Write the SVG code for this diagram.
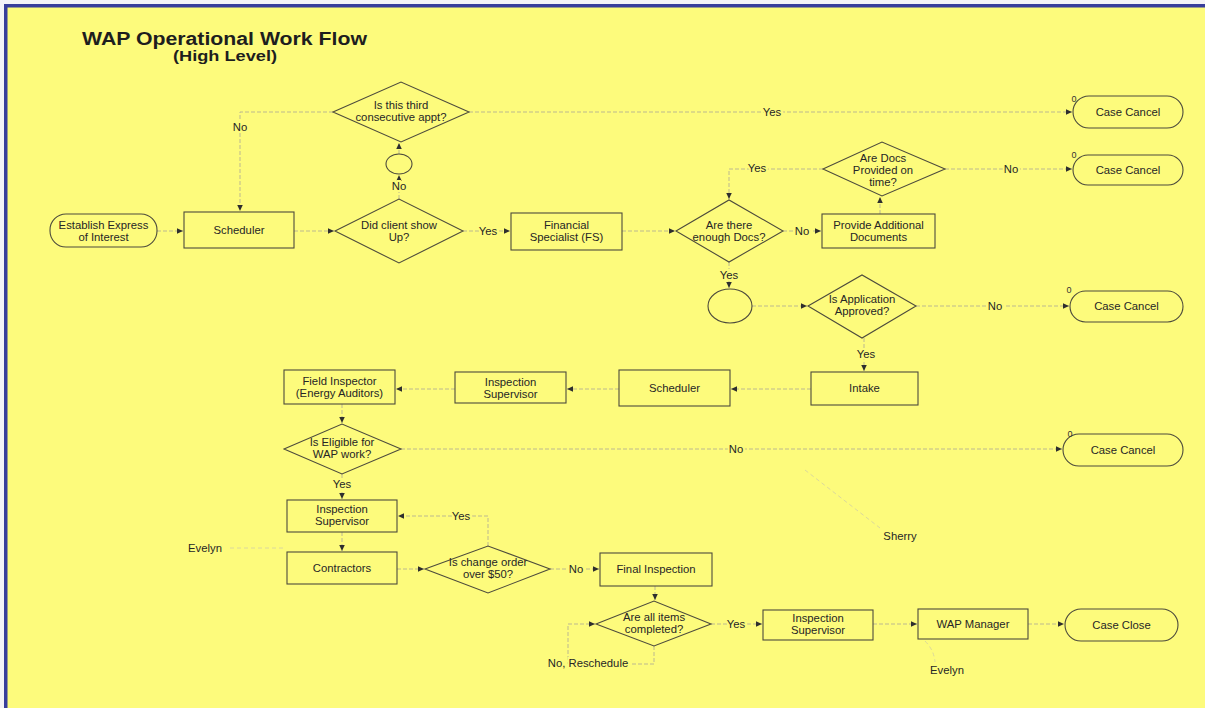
<svg xmlns="http://www.w3.org/2000/svg" width="1205" height="708" viewBox="0 0 1205 708">
<style>
.bg{fill:#fdfb7c}
.box{fill:none;stroke:#4d4b3c;stroke-width:1.1}
.t{font-family:"Liberation Sans",Arial,sans-serif;font-size:11.3px;fill:#262626;text-anchor:middle}
.lbl{font-family:"Liberation Sans",Arial,sans-serif;font-size:11.3px;fill:#262626;text-anchor:middle;stroke:#fdfb7c;stroke-width:4;paint-order:stroke}
.z{font-family:"Liberation Sans",Arial,sans-serif;font-size:9px;fill:#333;text-anchor:middle}
.conn{fill:none;stroke:#bcb98f;stroke-width:1;stroke-dasharray:4 2}
.faint{fill:none;stroke:#dbd89c;stroke-width:1;stroke-dasharray:4 3}
.title{font-family:"Liberation Sans",Arial,sans-serif;font-weight:bold;fill:#1e1e1e}
</style>
<defs>
<marker id="ah" markerUnits="userSpaceOnUse" markerWidth="6" markerHeight="6" refX="6" refY="2.75" orient="auto">
<path d="M0,0 L6,2.75 L0,5.5 z" fill="#2e2e2e"/>
</marker>
</defs>
<rect x="0" y="0" width="1205" height="708" fill="#f4f2f8"/>
<rect class="bg" x="4" y="4" width="1201" height="704"/>
<rect x="4" y="4" width="1201" height="3.5" fill="#383d9c"/>
<rect x="4" y="4" width="3.5" height="704" fill="#383d9c"/>

<text class="title" x="82" y="45" font-size="17.5" textLength="285" lengthAdjust="spacingAndGlyphs">WAP Operational Work Flow</text>
<text class="title" x="173" y="61" font-size="14" textLength="104" lengthAdjust="spacingAndGlyphs">(High Level)</text>

<g id="connectors">
<path class="conn" d="M157,231 H183" marker-end="url(#ah)"/>
<path class="conn" d="M294,231 H334" marker-end="url(#ah)"/>
<path class="conn" d="M399,199 V175" marker-end="url(#ah)"/>
<path class="conn" d="M399,154 V143" marker-end="url(#ah)"/>
<path class="conn" d="M333,112 H240 V211" marker-end="url(#ah)"/>
<path class="conn" d="M469,112 H1072" marker-end="url(#ah)"/>
<path class="conn" d="M463,231 H510" marker-end="url(#ah)"/>
<path class="conn" d="M622,231 H675" marker-end="url(#ah)"/>
<path class="conn" d="M783,231 H821" marker-end="url(#ah)"/>
<path class="conn" d="M880,214 V197" marker-end="url(#ah)"/>
<path class="conn" d="M823,169 H729 V199" marker-end="url(#ah)"/>
<path class="conn" d="M945,169 H1072" marker-end="url(#ah)"/>
<path class="conn" d="M729,262 V288" marker-end="url(#ah)"/>
<path class="conn" d="M752,306 H807" marker-end="url(#ah)"/>
<path class="conn" d="M916,306 H1069" marker-end="url(#ah)"/>
<path class="conn" d="M864,338 V371" marker-end="url(#ah)"/>
<path class="conn" d="M811,389 H731" marker-end="url(#ah)"/>
<path class="conn" d="M619,389 H567" marker-end="url(#ah)"/>
<path class="conn" d="M455,389 H396" marker-end="url(#ah)"/>
<path class="conn" d="M342,404 V423" marker-end="url(#ah)"/>
<path class="conn" d="M401,449 H1062" marker-end="url(#ah)"/>
<path class="conn" d="M342,474 V499" marker-end="url(#ah)"/>
<path class="conn" d="M342,532 V551" marker-end="url(#ah)"/>
<path class="conn" d="M397,569 H424" marker-end="url(#ah)"/>
<path class="conn" d="M488,546 V516 H398" marker-end="url(#ah)"/>
<path class="conn" d="M550,569 H599" marker-end="url(#ah)"/>
<path class="conn" d="M655,586 V600" marker-end="url(#ah)"/>
<path class="conn" d="M654,646 V664 H568 V624 H595" marker-end="url(#ah)"/>
<path class="conn" d="M711,624 H762" marker-end="url(#ah)"/>
<path class="conn" d="M873,624 H917" marker-end="url(#ah)"/>
<path class="conn" d="M1028,624 H1064" marker-end="url(#ah)"/>
<path class="faint" d="M805,470 L880,528"/>
<path class="faint" d="M230,548 H285"/>
<path class="faint" d="M925,641 Q934,650 935,662"/>

<text class="lbl" x="240" y="131">No</text>
<text class="lbl" x="399" y="190">No</text>
<text class="lbl" x="772" y="116">Yes</text>
<text class="lbl" x="488" y="235">Yes</text>
<text class="lbl" x="802" y="235">No</text>
<text class="lbl" x="757" y="172">Yes</text>
<text class="lbl" x="1011" y="173">No</text>
<text class="lbl" x="729" y="279">Yes</text>
<text class="lbl" x="995" y="310">No</text>
<text class="lbl" x="866" y="358">Yes</text>
<text class="lbl" x="736" y="453">No</text>
<text class="lbl" x="342" y="488">Yes</text>
<text class="lbl" x="461" y="520">Yes</text>
<text class="lbl" x="576" y="573">No</text>
<text class="lbl" x="736" y="628">Yes</text>
<text class="lbl" x="588" y="667">No, Reschedule</text>
</g>

<g id="establish"><rect class="box" x="50" y="214" width="107" height="33" rx="16"/><text class="t" x="103.5" y="228.5">Establish Express</text><text class="t" x="103.5" y="240.5">of Interest</text></g>
<g id="scheduler1"><rect class="box" x="184" y="212" width="110" height="36"/><text class="t" x="239" y="234">Scheduler</text></g>
<g id="did-client"><polygon class="box" points="335,231 399,199 463,231 399,263"/><text class="t" x="399" y="229">Did client show</text><text class="t" x="399" y="241">Up?</text></g>
<g id="circle1"><ellipse class="box" cx="399" cy="164" rx="13" ry="10"/></g>
<g id="third-appt"><polygon class="box" points="333,112 401,82 469,112 401,142"/><text class="t" x="401" y="109">Is this third</text><text class="t" x="401" y="121">consecutive appt?</text></g>
<g id="fs"><rect class="box" x="511" y="213" width="111" height="37"/><text class="t" x="566.5" y="229">Financial</text><text class="t" x="566.5" y="241">Specialist (FS)</text></g>
<g id="enough-docs"><polygon class="box" points="676,231 729,200 783,231 729,262"/><text class="t" x="729" y="229">Are there</text><text class="t" x="729" y="241">enough Docs?</text></g>
<g id="provide-docs"><rect class="box" x="822" y="214" width="113" height="34"/><text class="t" x="878.5" y="229">Provide Additional</text><text class="t" x="878.5" y="241">Documents</text></g>
<g id="docs-on-time"><polygon class="box" points="823,169 882,142 945,169 882,196"/><text class="t" x="883" y="162">Are Docs</text><text class="t" x="883" y="174">Provided on</text><text class="t" x="883" y="186">time?</text></g>
<g id="cancel1"><rect class="box" x="1073" y="96" width="110" height="32" rx="16"/><text class="t" x="1128" y="116">Case Cancel</text><text class="z" x="1074" y="102">0</text></g>
<g id="cancel2"><rect class="box" x="1073" y="155" width="110" height="30" rx="15"/><text class="t" x="1128" y="174">Case Cancel</text><text class="z" x="1074" y="158">0</text></g>
<g id="circle2"><ellipse class="box" cx="730" cy="306" rx="22" ry="17"/></g>
<g id="app-approved"><polygon class="box" points="808,306 862,275 916,306 862,338"/><text class="t" x="862" y="303">Is Application</text><text class="t" x="862" y="315">Approved?</text></g>
<g id="cancel3"><rect class="box" x="1070" y="291" width="113" height="31" rx="15.5"/><text class="t" x="1126.5" y="310">Case Cancel</text><text class="z" x="1069" y="293">0</text></g>
<g id="intake"><rect class="box" x="811" y="372" width="107" height="33"/><text class="t" x="864.5" y="392">Intake</text></g>
<g id="scheduler2"><rect class="box" x="619" y="370" width="111" height="36"/><text class="t" x="674.5" y="392">Scheduler</text></g>
<g id="insp-sup1"><rect class="box" x="455" y="372" width="111" height="31"/><text class="t" x="510.5" y="386">Inspection</text><text class="t" x="510.5" y="398">Supervisor</text></g>
<g id="field-inspector"><rect class="box" x="284" y="370" width="111" height="34"/><text class="t" x="339.5" y="385">Field Inspector</text><text class="t" x="339.5" y="397">(Energy Auditors)</text></g>
<g id="eligible"><polygon class="box" points="284,449 342,424 401,449 342,474"/><text class="t" x="342" y="446">Is Eligible for</text><text class="t" x="342" y="458">WAP work?</text></g>
<g id="cancel4"><rect class="box" x="1063" y="434" width="120" height="32" rx="16"/><text class="t" x="1123" y="454">Case Cancel</text><text class="z" x="1070" y="437">0</text></g>
<g id="insp-sup2"><rect class="box" x="287" y="500" width="110" height="32"/><text class="t" x="342" y="513">Inspection</text><text class="t" x="342" y="525">Supervisor</text></g>
<g id="contractors"><rect class="box" x="287" y="552" width="110" height="32"/><text class="t" x="342" y="572">Contractors</text></g>
<g id="change-order"><polygon class="box" points="425,569 488,546 550,569 488,593"/><text class="t" x="488" y="566">Is change order</text><text class="t" x="488" y="578">over $50?</text></g>
<g id="final-inspection"><rect class="box" x="600" y="553" width="112" height="33"/><text class="t" x="656" y="573">Final Inspection</text></g>
<g id="items-completed"><polygon class="box" points="596,624 654,601 711,624 654,646"/><text class="t" x="654" y="621">Are all items</text><text class="t" x="654" y="633">completed?</text></g>
<g id="insp-sup3"><rect class="box" x="763" y="610" width="110" height="30"/><text class="t" x="818" y="622">Inspection</text><text class="t" x="818" y="634">Supervisor</text></g>
<g id="wap-manager"><rect class="box" x="918" y="609" width="110" height="30"/><text class="t" x="973" y="628">WAP Manager</text></g>
<g id="case-close"><rect class="box" x="1065" y="609" width="113" height="32" rx="16"/><text class="t" x="1121.5" y="629">Case Close</text></g>

<g id="annotations">
<text class="t" x="205" y="552">Evelyn</text>
<text class="t" x="900" y="540">Sherry</text>
<text class="t" x="947" y="674">Evelyn</text>
</g>
</svg>
